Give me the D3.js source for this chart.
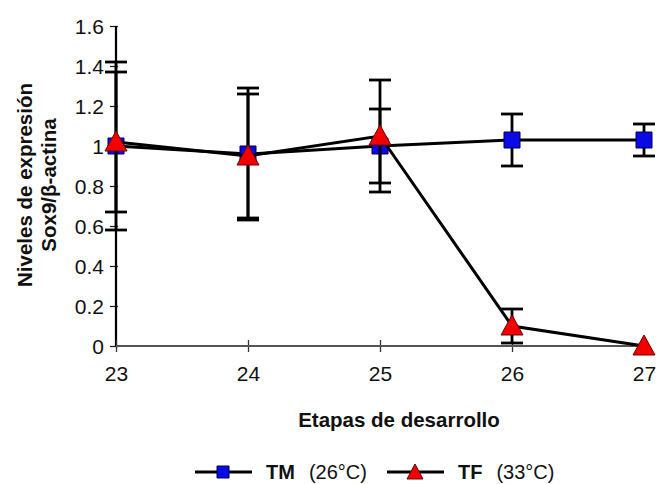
<!DOCTYPE html>
<html>
<head>
<meta charset="utf-8">
<script src="https://cdn.jsdelivr.net/npm/d3@7"></script>
<style>
  body { margin: 0; background: #fff; }
  text { font-family: "Liberation Sans", Arial, sans-serif; fill: #111; }
  .ttl { font-weight: bold; font-size: 20.5px; }
</style>
</head>
<body>
<svg id="chart" width="658" height="484"></svg>
<script>
var width = 658;
var height = 484;

// datos
var etapas = [23, 24, 25, 26, 27];
var tmMedia = [1.0, 0.96, 1.0, 1.03, 1.03];
var tmError = [0.42, 0.33, 0.185, 0.13, 0.08];
var tfMedia = [1.02, 0.95, 1.05, 0.1, 0];
var tfError = [0.35, 0.31, 0.28, 0.085, 0];
var yTicks = [0, 0.2, 0.4, 0.6, 0.8, 1, 1.2, 1.4, 1.6];

var x = d3.scaleLinear().domain([23, 27]).range([116, 644]);
var y = d3.scaleLinear().domain([0, 1.6]).range([346, 26]);

var svg = d3.select("#chart");

// eje y
var yAxis = d3.axisLeft(y).tickValues(yTicks).tickFormat(d3.format("~g")).tickSize(0).tickPadding(12);
var gy = svg.append("g").attr("transform", "translate(116,0)").call(yAxis);
gy.select(".domain").remove();
gy.selectAll(".tick line").remove();
gy.selectAll(".tick text").attr("dy", "0.36em").style("font-size", "21px");
gy.selectAll(".tick").append("line")
    .attr("x1", -6).attr("x2", 2)
    .attr("stroke", "#222").attr("stroke-width", 1.3);
svg.append("line")
    .attr("x1", 116).attr("x2", 116)
    .attr("y1", y(1.6)).attr("y2", y(0))
    .attr("stroke", "#000").attr("stroke-width", 2.2);

// eje x
var xAxis = d3.axisBottom(x).tickValues(etapas).tickFormat(d3.format("d")).tickSize(0).tickPadding(20);
var gx = svg.append("g").attr("transform", "translate(0,346)").call(xAxis);
gx.select(".domain").remove();
gx.selectAll(".tick line").remove();
gx.selectAll(".tick text").style("font-size", "21px");
gx.selectAll(".tick").append("line")
    .attr("y1", -6).attr("y2", 6)
    .attr("stroke", "#333").attr("stroke-width", 1.3);
svg.append("line")
    .attr("x1", x(23)).attr("x2", x(27))
    .attr("y1", 346).attr("y2", 346)
    .attr("stroke", "#555").attr("stroke-width", 2);

// titulos
svg.append("text").attr("class", "ttl")
    .attr("x", 399).attr("y", 427)
    .attr("text-anchor", "middle")
    .text("Etapas de desarrollo");
svg.append("text").attr("class", "ttl")
    .attr("transform", "translate(32,185) rotate(-90)")
    .attr("text-anchor", "middle")
    .text("Niveles de expresión");
svg.append("text").attr("class", "ttl")
    .attr("transform", "translate(56,185) rotate(-90)")
    .attr("text-anchor", "middle")
    .text("Sox9/β-actina");

function drawSeries(media, error, marker) {
    var pts = etapas.map(function(e, i) { return [e, media[i], error[i]]; });

    var eb = svg.append("g").attr("stroke", "#000").attr("stroke-width", 2.8);
    pts.filter(function(d) { return d[2] > 0; }).forEach(function(d) {
        var cx = x(d[0]);
        eb.append("line").attr("x1", cx).attr("x2", cx)
            .attr("y1", y(d[1] + d[2])).attr("y2", y(d[1] - d[2]));
        [d[1] + d[2], d[1] - d[2]].forEach(function(v) {
            eb.append("line").attr("x1", cx - 11).attr("x2", cx + 11)
                .attr("y1", y(v)).attr("y2", y(v));
        });
    });

    var line = d3.line().x(function(d) { return x(d[0]); }).y(function(d) { return y(d[1]); });
    svg.append("path").datum(pts)
        .attr("d", line)
        .attr("fill", "none")
        .attr("stroke", "#000")
        .attr("stroke-width", 3);

    svg.append("g").selectAll("path")
        .data(pts)
        .enter()
        .append("path")
        .attr("transform", function(d) { return "translate(" + x(d[0]) + "," + y(d[1]) + ")"; })
        .attr("d", marker.d)
        .attr("fill", marker.fill)
        .attr("stroke", marker.stroke)
        .attr("stroke-width", 1);
}

var cuadrado = { d: "M-8,-8H8V8H-8Z", fill: "#0a0ae6", stroke: "#000050" };
var triangulo = { d: "M0,-11L11,9H-11Z", fill: "#f20000", stroke: "#700000" };

drawSeries(tmMedia, tmError, cuadrado);
drawSeries(tfMedia, tfError, triangulo);

// leyenda
var leyenda = [
    { nombre: "TM", temp: "(26°C)", marker: { d: "M-6,-6H6V6H-6Z", fill: "#0a0ae6", stroke: "#000050" }, x0: 195 },
    { nombre: "TF", temp: "(33°C)", marker: { d: "M0,-8L8,7H-8Z", fill: "#f20000", stroke: "#700000" }, x0: 387 }
];
var ly = 472;
leyenda.forEach(function(l) {
    svg.append("line").attr("x1", l.x0).attr("x2", l.x0 + 57)
        .attr("y1", ly).attr("y2", ly)
        .attr("stroke", "#000").attr("stroke-width", 3);
    svg.append("path").attr("transform", "translate(" + (l.x0 + 28) + "," + ly + ")")
        .attr("d", l.marker.d).attr("fill", l.marker.fill)
        .attr("stroke", l.marker.stroke).attr("stroke-width", 1);
    var t = svg.append("text").attr("x", l.x0 + 71).attr("y", ly + 7).style("font-size", "20px");
    t.append("tspan").attr("font-weight", "bold").text(l.nombre);
    t.append("tspan").attr("dx", 14).text(l.temp);
});
</script>
</body>
</html>
